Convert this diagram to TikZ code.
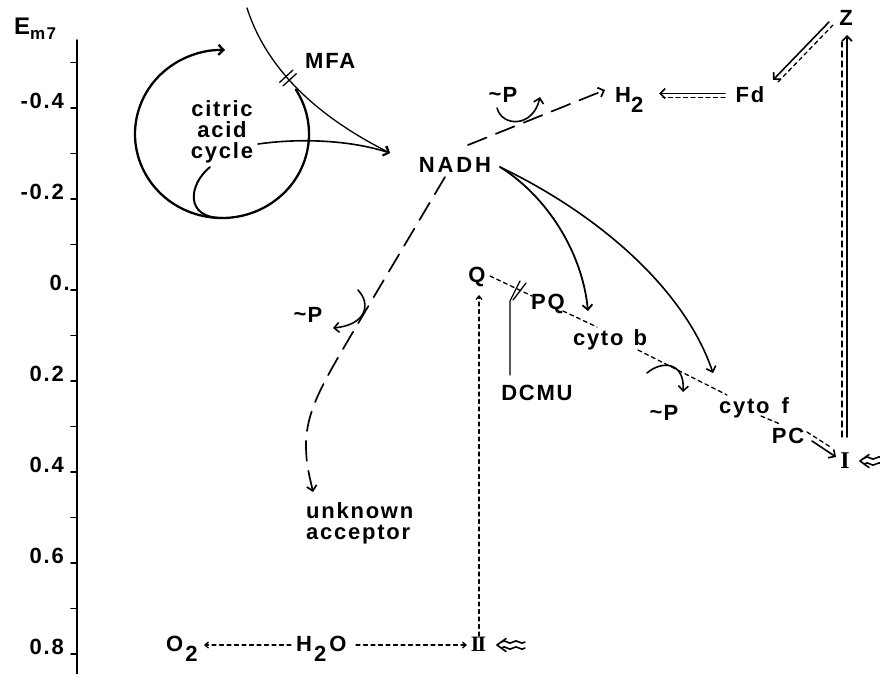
\documentclass[tikz,border=0pt]{standalone}
\usepackage{fontspec}
\usetikzlibrary{arrows.meta}
\newfontfamily\lettering{Liberation Sans}[LetterSpace=8]
\newfontfamily\wideletter{Liberation Sans}[LetterSpace=13]
\newfontfamily\numeral{Liberation Serif}
\newcommand\lbl{\lettering\bfseries\fontsize{22}{21}\selectfont}
\newcommand\widelbl{\wideletter\bfseries\fontsize{22}{22}\selectfont}
\newcommand\romanA{\numeral\bfseries\fontsize{22}{22}\selectfont}
\newcommand\romanB{\numeral\bfseries\fontsize{24}{24}\selectfont}
\newcommand\lowered[1]{\raisebox{-10pt}{#1}}
\newcommand\tld{\raisebox{1pt}{\textasciitilde}\kern1pt}
\tikzset{
  barb/.tip={Straight Barb[length=5pt,width=10pt]},
  sbarb/.tip={Straight Barb[length=3.5pt,width=6pt]},
  hnu/.pic={
    \draw[line width=1.6pt] (9,-6.5) -- (0,0) -- (9,6.5);
    \draw[line width=1.6pt] (4.5,-3) .. controls (8,-7) and (12,1) .. (16,-3) .. controls (20,-7) and (24,1) .. (28,-3);
    \draw[line width=1.6pt] (4.5,3) .. controls (8,-1) and (12,7) .. (16,3) .. controls (20,-1) and (24,7) .. (28,3);
  }
}
\begin{document}
\begin{tikzpicture}[x=1pt,y=-1pt,line cap=round,line join=round,
  every node/.style={inner sep=0pt,font=\lbl},
  axis line/.style={line width=1.6pt},
  sol/.style={line width=1.6pt},
  ldash/.style={line width=1.7pt,dash pattern=on 20pt off 10pt},
  sdash/.style={line width=1.3pt,dash pattern=on 4pt off 3.5pt}]
\fill[white] (0,0) rectangle (880,673);
\useasboundingbox (0,0) rectangle (880,673);

% potential axis
\draw[axis line] (77,40) -- (77,676);
\foreach \v in {-5,...,8}
  \draw[axis line] (71,{290+45.5*\v}) -- (77,{290+45.5*\v});
\node[anchor=base west] (em) at (14,34) {{\fontsize{24}{24}\selectfont E}\raisebox{-5pt}{\fontsize{17}{17}\selectfont m7}};
\foreach \v/\t in {-4/-0.4,-2/-0.2,2/0.2,4/0.4,6/0.6,8/0.8}
  \node[anchor=base east] (tick\v) at (64,{290+45.5*\v}) {\t};
\node[anchor=base east] (tick0) at (70,290) {0.};

% citric acid cycle
\node[align=center,anchor=north] (tca) at (222,100) {citric\\acid\\cycle};
\draw[line width=2.3pt,-barb] (222,134) ++(-32:87 and 84)
  arc[start angle=-32,end angle=272,x radius=87,y radius=84];
\draw[line width=2pt] (210,167) .. controls (188,185) and (185,218) .. (222,218);

% MFA branch
\node[anchor=base west] (mfa) at (305,68) {MFA};
\node[anchor=base,font=\widelbl] (nadh) at (455,172) {NADH};
\coordinate (mfa-in) at (247,8);
\coordinate (nadh-in) at (390,153);
\coordinate (tca-out) at (258,144);
\draw[line width=1.3pt,-barb] (mfa-in) .. controls (262,55) and (300,108) .. (nadh-in);
\draw[line width=1.3pt] (279.7,82.3) -- (292.9,70.1) (283.1,85.9) -- (296.3,73.7);
\draw[sol,-barb] (tca-out) .. controls (300,138) and (350,140) .. (nadh-in);

% hydrogenase branch
\node[anchor=base west] (h2) at (615,102) {H\lowered{2}};
\node[anchor=base] (fd) at (750,102) {Fd};
\node[anchor=base] (z) at (846,25) {Z};
\node[anchor=base] (p1) at (503,102) {\tld P};
\draw[ldash,-barb] (468,145) -- (605,90);
\draw[sol,-barb] (497,108) .. controls (502,127) and (533,128) .. (540,97);
\draw[sol,-barb] (725,93.5) -- (659,93.5);
\draw[sdash] (725,97.5) -- (663,97.5);
\draw[sol,-barb] (829,22) -- (773,80);
\draw[sdash] (833,25) -- (778,82);
\draw[sol,-barb] (847,437) -- (847,35);
\draw[line width=1.3pt,dash pattern=on 6pt off 4pt] (842,437) -- (842,42);

% unknown acceptor branch
\node[anchor=base] (p2) at (308,322) {\tld P};
\node[align=left,anchor=north west] (ua) at (306,502) {unknown\\acceptor};
\draw[ldash,-barb] (445,177) -- (350,337) .. controls (325,380) and (306,410) .. (306,445)
  .. controls (306,465) and (310,478) .. (313,492);
\draw[sol,-barb] (358,290) .. controls (372,305) and (365,325) .. (333,328);

% photosynthetic chain
\node[anchor=base] (q) at (477,282) {Q};
\node[anchor=base] (pq) at (548,309) {PQ};
\node[anchor=base] (cb) at (610,345) {cyto\hspace{10pt}b};
\node[anchor=base] (dcmu) at (537,400) {DCMU};
\node[anchor=base] (p3) at (664,420) {\tld P};
\node[anchor=base] (cf) at (754,413) {cyto\hspace{12pt}f};
\node[anchor=base] (pc) at (788,443) {PC};
\node[anchor=base,font=\romanB] (ps1) at (845,468) {I};
\draw[sdash] (490,276) -- (532,296);
\draw[line width=1.3pt] (510,375) -- (510,301) -- (520,281);
\draw[line width=1.3pt] (513,300) -- (526,283);
\draw[sdash] (563,311) -- (597,327);
\draw[sdash] (638,350) -- (727,395);
\draw[sdash] (761,416) -- (780,424);
\draw[sol,-barb] (647,373) .. controls (662,360) and (685,362) .. (683,392);
\draw[sdash] (807,432) -- (832,448);
\draw[sol,-barb] (812,441) -- (836,457);
\draw[line width=1.8pt,-barb] (500,167) .. controls (545,195) and (582,250) .. (588,311);
\draw[sol,-barb] (500,167) .. controls (600,215) and (685,290) .. (713,373);
\pic at (860,461) {hnu};

% water oxidation
\node[anchor=base west] (o2) at (166,651) {O\kern2pt\lowered{2}};
\node[anchor=base west] (h2o) at (296,651) {H\kern2pt\lowered{2}\kern3pt O};
\node[anchor=base,font=\romanA] (ps2) at (478.5,651) {I\kern-1.8pt I};
\draw[sdash,-sbarb] (291,645) -- (204,645);
\draw[sdash,-sbarb] (356,645) -- (467,645);
\draw[sdash,-sbarb] (479,636) -- (479,295);
\pic at (497,645) {hnu};
\end{tikzpicture}
\end{document}
